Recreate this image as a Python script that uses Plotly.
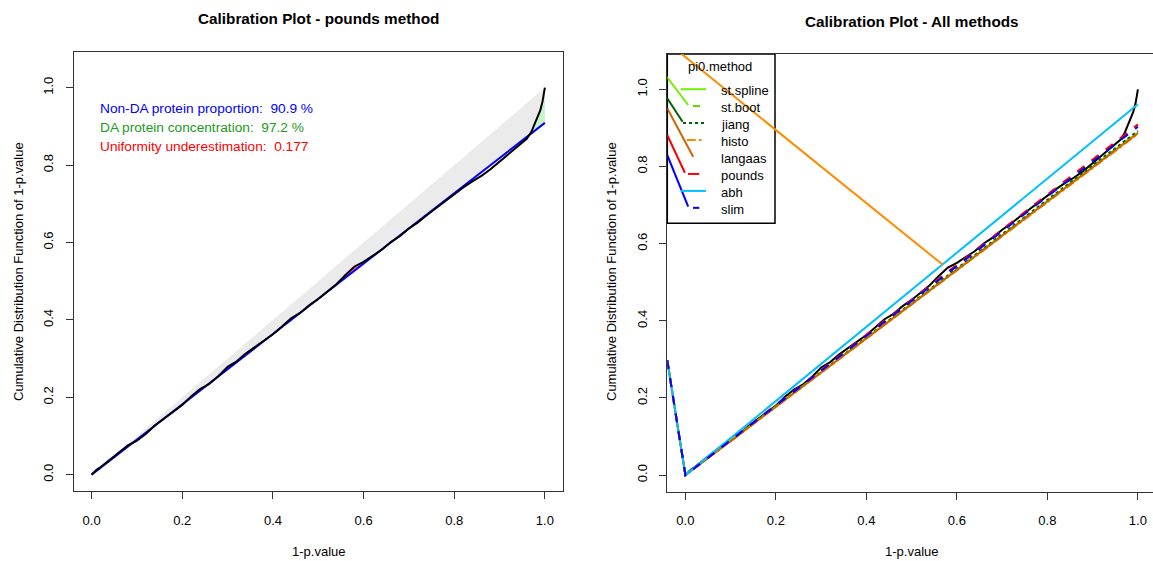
import plotly.graph_objects as go
import numpy as np

W, H = 1153, 561

# ---------------- data ----------------
PI0_POUNDS = 0.909
pval_x = [0, 0.01, 0.02, 0.04, 0.06, 0.08, 0.1, 0.12, 0.14, 0.16, 0.18, 0.2, 0.22, 0.24, 0.26,
          0.28, 0.3, 0.32, 0.34, 0.36, 0.38, 0.4, 0.42, 0.44, 0.46, 0.48, 0.5, 0.52, 0.54, 0.56,
          0.58, 0.6, 0.62, 0.64, 0.66, 0.68, 0.7, 0.72, 0.74, 0.76, 0.78, 0.8, 0.82, 0.84, 0.86,
          0.88, 0.9, 0.92, 0.94, 0.95, 0.96, 0.97, 0.98, 0.99, 0.995, 1.0]
cdf_y = [0, 0.012, 0.02, 0.038, 0.056, 0.076, 0.088, 0.106, 0.128, 0.146, 0.162, 0.18, 0.203,
         0.222, 0.235, 0.255, 0.279, 0.293, 0.313, 0.33, 0.346, 0.363, 0.383, 0.404, 0.418,
         0.438, 0.454, 0.472, 0.492, 0.516, 0.538, 0.55, 0.566, 0.581, 0.601, 0.616, 0.636,
         0.652, 0.671, 0.689, 0.706, 0.724, 0.742, 0.758, 0.772, 0.789, 0.809, 0.829, 0.85,
         0.858, 0.868, 0.885, 0.915, 0.942, 0.965, 1.0]
DA_START = 0.9

methods = ["st.spline", "st.boot", "jiang", "histo", "langaas", "pounds", "abh", "slim"]
method_pi0 = [0.888, 0.889, 0.892, 0.884, 0.886, 0.909, 0.961, 0.903]
method_start = [-0.0402, 0.298]  # off-left point every method line starts from
method_colors = ["#76EE00", "#66CD00", "#006400", "#FF8C00", "#CD6600", "#FF0000", "#00BFFF", "#0000FF"]
method_dash = ["solid", "dash", "dot", "dashdot", "solid", "dash", "solid", "dash"]

# stray segments near the legend (x0, y0, x1, y1) per colour
stray_colors = ["#76EE00", "#006400", "#CD6600", "#FF0000", "#0000FF", "#FF8C00"]
stray_x0 = [-0.0415, -0.0402, -0.0402, -0.0402, -0.0402, -0.0500]
stray_y0 = [1.0327, 0.9767, 0.9507, 0.8815, 0.8297, 1.1310]
stray_x1 = [0.0062, -0.0062, 0.0172, -0.0011, 0.0062, 0.569]
stray_y1 = [0.9593, 0.9160, 0.8253, 0.7838, 0.6956, 0.545]

annot_texts = ["Non-DA protein proportion:  90.9 %", "DA protein concentration:  97.2 %",
               "Uniformity underestimation:  0.177"]
annot_colors = ["#0000FF", "#229922", "#FF0000"]

FONT = "Liberation Sans, Arial, Helvetica, sans-serif"


def px(x):
    return x / W


def py(y):
    return 1 - y / H


fig = go.Figure()

# ---------------- left panel ----------------
x = np.array(pval_x)
c = np.array(cdf_y)
line = PI0_POUNDS * x

fig.add_trace(go.Scatter(x=[0, 1, 1, 0], y=[0, 1, PI0_POUNDS, 0], fill="toself", mode="none",
                         fillcolor="#EBEBEB", xaxis="x", yaxis="y", hoverinfo="skip"))
upper = np.maximum(c, line)
for mask, col in [(x <= DA_START, "#FF7070"), (x >= DA_START, "#C8F5C8")]:
    fig.add_trace(go.Scatter(x=x[mask], y=line[mask], mode="lines", line=dict(width=0),
                             xaxis="x", yaxis="y", hoverinfo="skip"))
    fig.add_trace(go.Scatter(x=x[mask], y=upper[mask], mode="lines", line=dict(width=0),
                             fill="tonexty", fillcolor=col, xaxis="x", yaxis="y", hoverinfo="skip"))
fig.add_trace(go.Scatter(x=[0, 1], y=[0, PI0_POUNDS], mode="lines", line=dict(color="#0000FF", width=2),
                         xaxis="x", yaxis="y"))
fig.add_trace(go.Scatter(x=pval_x, y=cdf_y, mode="lines", line=dict(color="black", width=2),
                         xaxis="x", yaxis="y"))

# ---------------- right panel ----------------
fig.add_trace(go.Scatter(x=pval_x, y=cdf_y, mode="lines", line=dict(color="black", width=2),
                         xaxis="x2", yaxis="y2"))
for m, p, col, d in zip(methods, method_pi0, method_colors, method_dash):
    fig.add_trace(go.Scatter(x=[method_start[0], 0, 1], y=[method_start[1], 0, p], mode="lines",
                             line=dict(color=col, width=2, dash=d), name=m, xaxis="x2", yaxis="y2"))
for col, a, b, cc, d in zip(stray_colors, stray_x0, stray_y0, stray_x1, stray_y1):
    fig.add_trace(go.Scatter(x=[a, cc], y=[b, d], mode="lines", line=dict(color=col, width=2),
                             xaxis="x2", yaxis="y2"))

# ---------------- layout ----------------
L = dict(x0=73.5, x1=563, y0=52, y1=491)
R = dict(x0=667.3, x1=1153, y0=54, y1=491.7)

axcommon = dict(showgrid=False, zeroline=False, showline=True, linecolor="#333333", linewidth=1,
                ticks="outside", ticklen=7, tickcolor="#333333", tickfont=dict(family=FONT, size=13, color="black"),
                tickvals=[0, 0.2, 0.4, 0.6, 0.8, 1.0], ticktext=["0.0", "0.2", "0.4", "0.6", "0.8", "1.0"])

fig.update_layout(
    width=W, height=H, margin=dict(l=0, r=0, t=0, b=0), showlegend=False,
    paper_bgcolor="white", plot_bgcolor="rgba(0,0,0,0)",
    xaxis=dict(axcommon, domain=[px(L["x0"]), px(L["x1"])], range=[-0.04, 1.04], mirror=True,
               anchor="y", ticklabelstandoff=10),
    yaxis=dict(axcommon, domain=[py(L["y1"]), py(L["y0"])], range=[-0.042, 1.092], mirror=True,
               anchor="x", tickangle=-90, ticklabelstandoff=7),
    xaxis2=dict(axcommon, domain=[px(R["x0"]), 1.0], range=[-0.04, -0.04 + (W - R["x0"]) / 452.5],
                mirror=True, anchor="y2", ticklabelstandoff=10),
    yaxis2=dict(axcommon, domain=[py(R["y1"]), py(R["y0"])], range=[-0.043, 1.0915], mirror=False,
                anchor="x2", tickangle=-90, ticklabelstandoff=7),
)


def note(text, x, y, size=13, color="black", xanchor="center", angle=0):
    return dict(text=text, x=px(x), y=py(y), xref="paper", yref="paper", showarrow=False,
                xanchor=xanchor, yanchor="middle", textangle=angle,
                font=dict(family=FONT, size=size, color=color))


ann = []
ann.append(note("<b>Calibration Plot - pounds method</b>", 318.3, 19, size=15.3))
ann.append(note("<b>Calibration Plot - All methods</b>", 912, 21, size=15.3))
for cx in (318.3, 911.7):
    ann.append(note("1-p.value", cx, 551))
for cx in (18, 611):
    ann.append(note("Cumulative Distribution Function of 1-p.value", cx, 272, angle=-90))
for i, (t, col) in enumerate(zip(annot_texts, annot_colors)):
    ann.append(note(t, 98, 108.5 + i * 19, size=13.7, color=col, xanchor="left"))

# manual legend
shapes = [dict(type="rect", xref="paper", yref="paper", x0=px(667.3), x1=px(775), y0=py(223.3), y1=py(54),
               fillcolor="white", line=dict(color="black", width=1.5), layer="below")]
ann.append(note("pi0.method", 720, 67))
seg = {"st.spline": (680.7, 706), "st.boot": (693, 700), "jiang": (683, 705), "histo": (686.7, 703.3),
       "langaas": None, "pounds": (688, 699.3), "abh": (680.7, 706), "slim": (693, 699.3)}
for i, (m, col, d) in enumerate(zip(methods, method_colors, method_dash)):
    yy = 90.7 + i * 16.95
    ann.append(note(m, 719.3, yy, xanchor="left"))
    if seg[m]:
        shapes.append(dict(type="line", xref="paper", yref="paper", x0=px(seg[m][0]), x1=px(seg[m][1]),
                           y0=py(yy - 1.5), y1=py(yy - 1.5), line=dict(color=col, width=2,
                           dash="solid" if m in ("pounds", "st.boot", "slim") else d)))

fig.update_layout(annotations=ann, shapes=shapes)
fig.write_html("out.html")
